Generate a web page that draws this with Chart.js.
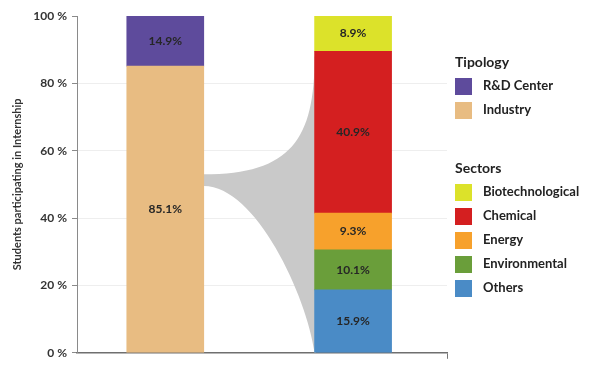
<!DOCTYPE html>
<html>
<head>
<meta charset="utf-8">
<script src="https://cdn.jsdelivr.net/npm/chart.js@4.4.1/dist/chart.umd.min.js"></script>
<style>
  html, body { margin: 0; padding: 0; background: #fff; }
  #wrap { position: relative; width: 590px; height: 365px; overflow: hidden; }
  #legend { position: absolute; left: 455px; top: 0; font-family: Lato, "Open Sans", sans-serif; color: #222; }
  .lg-title { position: absolute; left: 0; font-weight: bold; font-size: 14px; white-space: nowrap; }
  .lg-item { position: absolute; left: 0; white-space: nowrap; font-weight: bold; font-size: 13px; }
  .lg-box { position: absolute; left: 0; width: 17px; height: 17px; }
  .lg-text { position: absolute; left: 28px; top: 0; }
</style>
</head>
<body>
<div id="wrap">
  <canvas id="c" width="590" height="365"></canvas>
  <div id="legend"></div>
</div>
<script>
// ---- data ----
const categories = ['Tipology', 'Sectors'];
const tipologyLabels = ['Industry', 'R&D Center'];
const tipologyValues = [85.1, 14.9];
const tipologyColors = ['#E8BC82', '#5E4B9C'];
const sectorLabels = ['Others', 'Environmental', 'Energy', 'Chemical', 'Biotechnological'];
const sectorValues = [15.9, 10.1, 9.3, 40.9, 8.9];
const sectorColors = ['#4A8BC6', '#6A9E3A', '#F7A12C', '#D41F20', '#DCE22A'];
const yTickValues = [0, 20, 40, 60, 80, 100];
const yTitle = 'Students participating in Internship';
const funnelFrom = [49.5, 53];   // y-range (%) at the Industry bar
const funnelTo = [0, 88];        // y-range (%) at the Sectors bar

// sector shares are shown relative to the industry total (right bar spans 0-100 %)
const sectorTotal = sectorValues.reduce((a, b) => a + b, 0);

const datasets = [];
tipologyLabels.forEach((lab, i) => {
  datasets.push({
    label: lab,
    data: [{ x: 0, y: tipologyValues[i] }],
    shown: tipologyValues[i],
    backgroundColor: tipologyColors[i]
  });
});
sectorLabels.forEach((lab, i) => {
  datasets.push({
    label: lab,
    data: [{ x: 1, y: sectorValues[i] / sectorTotal * 100 }],
    shown: sectorValues[i],
    backgroundColor: sectorColors[i]
  });
});

const FONT = 'Lato, "Open Sans", sans-serif';

const funnelPlugin = {
  id: 'funnel',
  beforeDatasetsDraw(chart) {
    const y = chart.scales.y;
    const left = chart.getDatasetMeta(0).data[0];
    const right = chart.getDatasetMeta(tipologyLabels.length).data[0];
    if (!left || !right) return;
    const x0 = left.x + left.width / 2;
    const x1 = right.x - right.width / 2;
    const dx = x1 - x0;
    const yb0 = y.getPixelForValue(funnelFrom[0]);
    const yt0 = y.getPixelForValue(funnelFrom[1]);
    const yb1 = y.getPixelForValue(funnelTo[0]);
    const yt1 = y.getPixelForValue(funnelTo[1]);
    const ctx = chart.ctx;
    ctx.save();
    ctx.fillStyle = '#C9C9C9';
    ctx.beginPath();
    ctx.moveTo(x0, yt0);
    ctx.bezierCurveTo(x0 + dx * 0.79, yt0, x1, yt0 + (yt1 - yt0) * 0.3, x1, yt1);
    ctx.lineTo(x1 + 1, yt1);
    ctx.lineTo(x1 + 1, yb1);
    ctx.lineTo(x1, yb1);
    ctx.bezierCurveTo(x1 - dx * 0.07, yb0 + (yb1 - yb0) * 0.66, x0 + dx * 0.47, yb0, x0, yb0);
    ctx.closePath();
    ctx.fill();
    ctx.restore();
  }
};

const labelPlugin = {
  id: 'segLabels',
  afterDatasetsDraw(chart) {
    const ctx = chart.ctx;
    ctx.save();
    ctx.font = 'bold 12px ' + FONT;
    ctx.fillStyle = '#262626';
    ctx.textAlign = 'center';
    ctx.textBaseline = 'middle';
    chart.data.datasets.forEach((ds, i) => {
      const el = chart.getDatasetMeta(i).data[0];
      if (!el) return;
      const p = el.getCenterPoint();
      ctx.fillText(ds.shown.toFixed(1) + '%', p.x, p.y);
    });
    ctx.restore();
  }
};

new Chart(document.getElementById('c'), {
  type: 'bar',
  data: { datasets },
  options: {
    responsive: false,
    animation: false,
    devicePixelRatio: 1,
    layout: { padding: { top: 16, right: 143, left: 0, bottom: 0 } },
    plugins: { legend: { display: false }, tooltip: { enabled: false } },
    datasets: { bar: { barThickness: 77, borderWidth: 0 } },
    scales: {
      x: {
        type: 'linear',
        stacked: true,
        offset: false,
        min: -0.47,
        max: 1.5,
        afterDataLimits(scale) { scale.min = -0.47; scale.max = 1.5; },
        afterBuildTicks(scale) { scale.ticks = [{ value: scale.max }]; },
        afterFit(scale) { scale.height = 8; },
        ticks: { display: false },
        grid: { offset: false, drawOnChartArea: false, drawTicks: true, tickLength: 6, color: '#777', tickColor: '#777' },
        border: { display: true, color: '#6f6f6f', width: 1.5 }
      },
      y: {
        stacked: true,
        min: 0,
        max: 100,
        afterBuildTicks(scale) { scale.ticks = yTickValues.map(v => ({ value: v })); },
        afterFit(scale) { scale.width = 77; },
        ticks: {
          padding: 5,
          color: '#333',
          font: { family: FONT, size: 12, weight: 'bold' },
          callback: v => v + ' %'
        },
        grid: {
          color: ctx => (ctx.tick && (ctx.tick.value === 0 || ctx.tick.value === 100)) ? 'rgba(0,0,0,0)' : '#eeeeee',
          tickColor: '#8a8a8a',
          tickLength: 5
        },
        border: { display: true, color: '#8a8a8a', width: 1 },
        title: {
          display: true,
          text: yTitle,
          color: '#333',
          padding: { top: 11, bottom: 0 },
          font: { family: FONT, size: 11, weight: 'bold' }
        }
      }
    }
  },
  plugins: [funnelPlugin, labelPlugin]
});

// ---- legend (HTML text) ----
const legend = document.getElementById('legend');
function addTitle(text, top) {
  const d = document.createElement('div');
  d.className = 'lg-title';
  d.style.top = top + 'px';
  d.textContent = text;
  legend.appendChild(d);
}
function addItem(text, color, top) {
  const box = document.createElement('div');
  box.className = 'lg-box';
  box.style.top = (top + 1) + 'px';
  box.style.background = color;
  legend.appendChild(box);
  const t = document.createElement('div');
  t.className = 'lg-item';
  t.style.top = top + 'px';
  const s = document.createElement('span');
  s.className = 'lg-text';
  s.textContent = text;
  t.appendChild(s);
  legend.appendChild(t);
}
addTitle(categories[0], 53);
[1, 0].forEach((i, k) => addItem(tipologyLabels[i], tipologyColors[i], 77 + k * 24));
addTitle(categories[1], 159);
[4, 3, 2, 1, 0].forEach((i, k) => addItem(sectorLabels[i], sectorColors[i], 183 + k * 24));
</script>
</body>
</html>
